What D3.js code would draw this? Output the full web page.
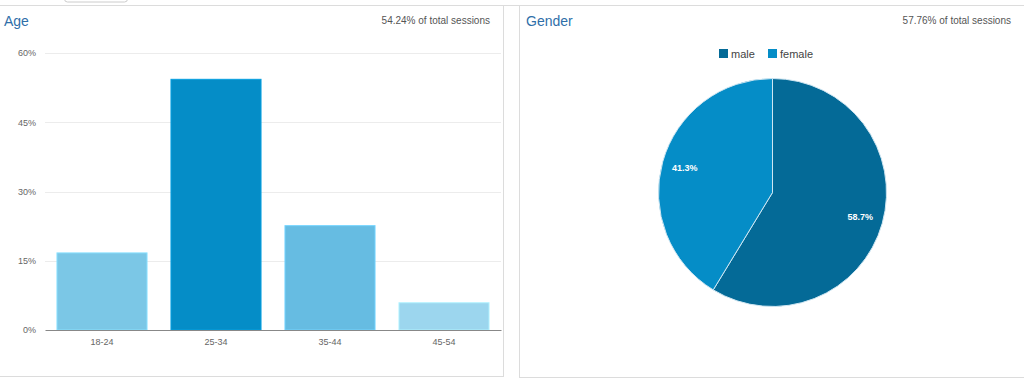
<!DOCTYPE html>
<html>
<head>
<meta charset="utf-8">
<script src="https://cdn.jsdelivr.net/npm/d3@7"></script>
<style>
  html, body { margin: 0; padding: 0; background: #fff; }
  svg { display: block; font-family: Arial, "Liberation Sans", sans-serif; }
</style>
</head>
<body>
<svg id="chart" width="1024" height="379"></svg>
<script>
// ---- data ----
const ageCategories = ["18-24", "25-34", "35-44", "45-54"];
const ageValues = [16.7, 54.3, 22.6, 5.9];
const ageColors = ["#7bc7e6", "#058dc7", "#66bce2", "#9cd6ee"];
const ageTicks = [0, 15, 30, 45, 60];
const genderLabels = ["male", "female"];
const genderValues = [58.7, 41.3];
const genderColors = ["#046a97", "#058dc7"];
const ageTitle = "Age";
const ageNote = "54.24% of total sessions";
const genderTitle = "Gender";
const genderNote = "57.76% of total sessions";

const svg = d3.select("#chart");

// ---- page frame ----
svg.append("rect").attr("x", 64.5).attr("y", -20).attr("width", 63).attr("height", 22)
  .attr("rx", 3).attr("fill", "#fff").attr("stroke", "#ccc");
const frame = svg.append("g").attr("stroke", "#dcdcdc").attr("fill", "none");
frame.append("line").attr("x1", 0).attr("x2", 1024).attr("y1", 5.5).attr("y2", 5.5);
frame.append("line").attr("x1", 503.5).attr("x2", 503.5).attr("y1", 5).attr("y2", 377);
frame.append("line").attr("x1", 0).attr("x2", 504).attr("y1", 376.5).attr("y2", 376.5);
frame.append("line").attr("x1", 519.5).attr("x2", 519.5).attr("y1", 5).attr("y2", 378);
frame.append("line").attr("x1", 519).attr("x2", 1024).attr("y1", 377.5).attr("y2", 377.5);

// ---- Age panel ----
svg.append("text").attr("x", 4).attr("y", 26).attr("font-size", 14).attr("fill", "#2f6fa9").text(ageTitle);
svg.append("text").attr("x", 490).attr("y", 24).attr("font-size", 10).attr("text-anchor", "end")
  .attr("fill", "#555").text(ageNote);

const x = d3.scaleBand().domain(ageCategories).range([45, 501]).paddingInner(0.21).paddingOuter(0.105);
const y = d3.scaleLinear().domain([0, 60]).range([330, 53]);

const grid = svg.append("g");
grid.selectAll("line").data(ageTicks.filter(t => t > 0)).join("line")
  .attr("x1", 45).attr("x2", 501)
  .attr("y1", d => Math.round(y(d)) + 0.5).attr("y2", d => Math.round(y(d)) + 0.5)
  .attr("stroke", "#ececec");

const yAxis = svg.append("g").attr("transform", "translate(45,0)")
  .call(d3.axisLeft(y).tickValues(ageTicks).tickFormat(d => d + "%").tickSize(0).tickPadding(9));
yAxis.select(".domain").remove();
yAxis.selectAll("text").attr("font-size", 9).attr("fill", "#666").attr("font-family", "Arial, 'Liberation Sans', sans-serif");

svg.append("g").selectAll("rect").data(ageValues).join("rect")
  .attr("x", (d, i) => x(ageCategories[i]))
  .attr("width", x.bandwidth())
  .attr("y", d => y(d))
  .attr("height", d => y(0) - y(d))
  .attr("fill", (d, i) => ageColors[i])
  .attr("stroke", (d, i) => d3.color(ageColors[i]).brighter(0.35))
  .attr("stroke-width", 1);

const xAxis = svg.append("g").attr("transform", "translate(0,330)")
  .call(d3.axisBottom(x).tickSize(0).tickPadding(9));
xAxis.select(".domain").attr("stroke", "#888").attr("stroke-width", 1.2);
xAxis.selectAll("text").attr("font-size", 9).attr("fill", "#666").attr("font-family", "Arial, 'Liberation Sans', sans-serif");

// ---- Gender panel ----
svg.append("text").attr("x", 526).attr("y", 26).attr("font-size", 14).attr("fill", "#2f6fa9").text(genderTitle);
svg.append("text").attr("x", 1011).attr("y", 24).attr("font-size", 10).attr("text-anchor", "end")
  .attr("fill", "#555").text(genderNote);

const legend = svg.append("g");
const legendX = [719, 768];
genderLabels.forEach((g, i) => {
  legend.append("rect").attr("x", legendX[i]).attr("y", 49).attr("width", 9).attr("height", 9)
    .attr("fill", genderColors[i]);
  legend.append("text").attr("x", legendX[i] + 12).attr("y", 57.5).attr("font-size", 11)
    .attr("fill", "#444").text(g);
});

const cx = 772.5, cy = 192.5, r = 114;
const pie = d3.pie().sort(null).value(d => d);
const arc = d3.arc().innerRadius(0).outerRadius(r);
const labelArc = d3.arc().innerRadius(r * 0.8).outerRadius(r * 0.8);
const pg = svg.append("g").attr("transform", `translate(${cx},${cy})`);
const arcs = pie(genderValues);
pg.selectAll("path").data(arcs).join("path")
  .attr("d", arc)
  .attr("fill", (d, i) => genderColors[i])
  .attr("stroke", "#cfe6f2").attr("stroke-width", 1);
pg.selectAll("text").data(arcs).join("text")
  .attr("transform", d => `translate(${labelArc.centroid(d)})`)
  .attr("text-anchor", "middle").attr("dy", "0.35em")
  .attr("font-size", 9).attr("font-weight", "bold").attr("fill", "#fff")
  .text(d => d.data.toFixed(1) + "%");
</script>
</body>
</html>
